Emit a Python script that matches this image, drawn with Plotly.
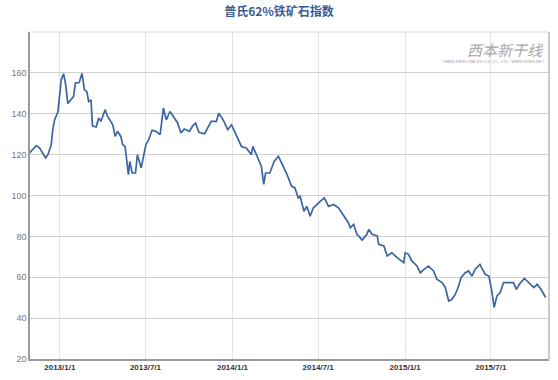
import plotly.graph_objects as go

title = "普氏62%铁矿石指数"

dates = [
    "2012-10-29", "2012-11-12", "2012-11-19", "2012-12-02", "2012-12-07", "2012-12-14",
    "2012-12-17", "2012-12-21", "2012-12-28", "2013-01-04", "2013-01-09", "2013-01-13",
    "2013-01-18", "2013-01-25", "2013-01-30", "2013-02-03", "2013-02-11", "2013-02-17",
    "2013-02-22", "2013-02-27", "2013-03-03", "2013-03-08", "2013-03-11", "2013-03-19",
    "2013-03-24", "2013-03-29", "2013-04-07", "2013-04-12", "2013-04-23", "2013-04-28",
    "2013-05-03", "2013-05-10", "2013-05-14", "2013-05-19", "2013-05-24", "2013-05-26",
    "2013-05-29", "2013-06-03", "2013-06-10", "2013-06-14", "2013-06-22", "2013-06-29",
    "2013-07-02", "2013-07-08", "2013-07-15", "2013-07-23", "2013-08-01", "2013-08-08",
    "2013-08-14", "2013-08-22", "2013-08-29", "2013-09-07", "2013-09-14", "2013-09-21",
    "2013-10-02", "2013-10-09", "2013-10-15", "2013-10-22", "2013-11-03", "2013-11-17",
    "2013-11-28", "2013-12-03", "2013-12-12", "2013-12-22", "2013-12-30", "2014-01-09",
    "2014-01-20", "2014-01-30", "2014-02-10", "2014-02-13", "2014-02-24", "2014-03-03",
    "2014-03-08", "2014-03-12", "2014-03-21", "2014-03-30", "2014-04-08", "2014-04-15",
    "2014-04-25", "2014-05-06", "2014-05-13", "2014-05-20", "2014-05-24", "2014-06-01",
    "2014-06-07", "2014-06-14", "2014-06-21", "2014-07-02", "2014-07-14", "2014-07-23",
    "2014-08-03", "2014-08-13", "2014-08-24", "2014-08-28", "2014-09-03", "2014-09-07",
    "2014-09-14", "2014-09-21", "2014-09-25", "2014-10-02", "2014-10-12", "2014-10-16",
    "2014-10-23", "2014-11-03", "2014-11-06", "2014-11-17", "2014-11-24", "2014-12-04",
    "2014-12-15", "2014-12-29", "2015-01-01", "2015-01-08", "2015-01-15", "2015-01-26",
    "2015-02-02", "2015-02-10", "2015-02-19", "2015-03-02", "2015-03-09", "2015-03-20",
    "2015-03-27", "2015-04-03", "2015-04-10", "2015-04-17", "2015-04-24", "2015-04-29",
    "2015-05-08", "2015-05-15", "2015-05-22", "2015-05-29", "2015-06-08", "2015-06-19",
    "2015-06-27", "2015-07-03", "2015-07-08", "2015-07-14", "2015-07-21", "2015-07-28",
    "2015-08-08", "2015-08-18", "2015-08-24", "2015-09-02", "2015-09-10", "2015-09-19",
    "2015-09-30", "2015-10-07", "2015-10-15", "2015-10-25",
]

values = [
    120.8, 124.4, 123.3, 118.4, 120.0, 124.9,
    132.0, 137.0, 141.0, 156.6, 159.5, 155.0,
    145.0, 146.8, 148.4, 155.0, 155.3, 159.8,
    151.7, 150.9, 146.0, 146.8, 134.1, 133.5,
    137.9, 136.3, 142.0, 138.7, 134.6, 128.9,
    131.4, 128.9, 124.9, 124.0, 114.3, 110.2,
    116.7, 111.0, 111.0, 120.0, 113.5, 120.8,
    124.9, 127.3, 131.9, 131.4, 129.8, 142.8,
    137.0, 141.1, 138.7, 135.5, 130.6, 132.5,
    131.4, 134.1, 135.5, 130.9, 130.2, 136.3,
    136.3, 140.3, 137.1, 132.2, 134.6, 129.8,
    124.0, 123.3, 120.0, 124.0, 118.4, 114.3,
    105.4, 111.0, 111.0, 116.7, 119.2, 116.0,
    111.0, 104.5, 103.7, 98.8, 99.6, 92.3,
    94.7, 89.9, 94.0, 96.4, 98.8, 94.7,
    95.6, 94.0, 89.9, 88.3, 86.7, 84.2,
    85.9, 81.0, 80.2, 78.2, 81.0, 83.4,
    81.0, 80.2, 76.1, 75.3, 70.4, 72.0,
    69.6, 67.1, 72.0, 71.2, 68.0, 65.5,
    62.2, 63.9, 65.5, 63.1, 59.0, 57.4,
    54.9, 48.4, 49.2, 51.7, 55.7, 59.8,
    62.2, 63.1, 60.6, 63.9, 66.3, 61.4,
    60.6, 53.3, 45.2, 50.9, 52.5, 57.4,
    57.4, 57.4, 54.1, 57.4, 59.4, 57.4,
    54.9, 56.5, 54.1, 50.1,
]

x_tick_vals = ["2013-01-01", "2013-07-01", "2014-01-01", "2014-07-01", "2015-01-01", "2015-07-01"]
x_tick_text = ["<b>2013/1/1</b>", "<b>2013/7/1</b>", "<b>2014/1/1</b>", "<b>2014/7/1</b>",
               "<b>2015/1/1</b>", "<b>2015/7/1</b>"]
y_ticks = [20, 40, 60, 80, 100, 120, 140, 160]

fig = go.Figure()
fig.add_trace(go.Scatter(
    x=dates, y=values, mode="lines",
    line=dict(color="#3b66a3", width=1.7),
    hoverinfo="x+y",
))

fig.update_layout(
    width=558, height=380,
    margin=dict(l=30, r=9, t=32, b=21),
    paper_bgcolor="white", plot_bgcolor="white",
    showlegend=False,
    title=dict(
        text="<b>" + title + "</b>",
        x=0.5, xanchor="center", y=0.968, yanchor="middle",
        font=dict(family="Noto Sans CJK SC", size=12, color="#3d5d92"),
    ),
    xaxis=dict(
        type="date",
        range=["2012-10-30", "2015-11-01"],
        tickvals=x_tick_vals, ticktext=x_tick_text,
        showgrid=True, gridcolor="#e4e4e4", gridwidth=1,
        showline=True, linecolor="#9a9a9a", linewidth=1.5, mirror=False,
        ticks="", zeroline=False,
        tickfont=dict(family="Liberation Sans", size=8, color="#333333"),
        fixedrange=True,
    ),
    yaxis=dict(
        range=[20, 180],
        tickvals=y_ticks,
        showgrid=True, gridcolor="#cfcfcf", gridwidth=1,
        showline=True, linecolor="#9a9a9a", linewidth=1.5, mirror=False,
        ticks="", zeroline=False,
        tickfont=dict(family="Liberation Sans", size=9, color="#777777"),
        fixedrange=True,
    ),
)

# light frame on the top and right of the plot area
fig.add_shape(type="line", xref="paper", yref="paper", x0=0, x1=1, y0=1, y1=1,
              line=dict(color="#d8d8d8", width=1))
fig.add_shape(type="line", xref="paper", yref="paper", x0=1, x1=1, y0=0, y1=1,
              line=dict(color="#b8b8b8", width=1.5))

# watermark
fig.add_annotation(xref="paper", yref="paper", x=0.995, y=0.985, xanchor="right", yanchor="top",
                   text="<i>西本新干线</i>", showarrow=False,
                   font=dict(family="Noto Sans CJK SC", size=15, color="#a8a8a8"))
fig.add_annotation(xref="paper", yref="paper", x=0.995, y=0.925, xanchor="right", yanchor="top",
                   text="XIBEN NEW LINE STOCK CO., LTD.  WWW.96369.NET", showarrow=False,
                   font=dict(family="Liberation Sans", size=4, color="#a0a0a0"))

fig.write_html("out.html")
